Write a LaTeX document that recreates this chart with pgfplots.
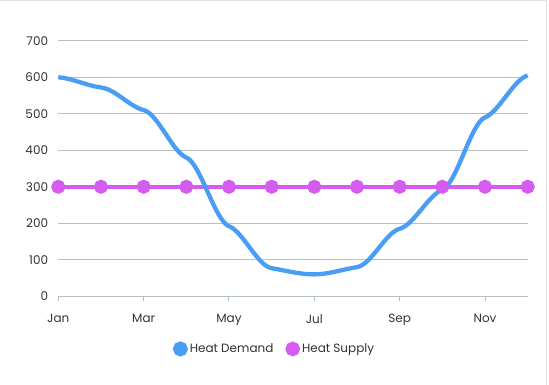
\documentclass[border=0pt]{standalone}
\usepackage{pgfplots}
\pgfplotsset{compat=1.18}
\usepackage{fontspec}
\setmainfont{Poppins}
\definecolor{demand}{HTML}{4A9DF5}
\definecolor{supply}{HTML}{D65CF0}
\definecolor{gridc}{HTML}{B4C0C8}
\definecolor{framec}{HTML}{E3E3E3}
\definecolor{labc}{HTML}{333333}
% plot handler: cubic segments with horizontal control arms of one third
% and damped Catmull-Rom tangents (draws the data points only)
\makeatletter
\newdimen\fc@xa \newdimen\fc@ya \newdimen\fc@xb \newdimen\fc@yb
\newdimen\fc@xc \newdimen\fc@yc \newdimen\fc@ma \newdimen\fc@mb \newdimen\fc@dx
\def\fc@kc{0.05}% k/6
\def\fc@ke{0.1}% k/3
\def\pgfplothandlerflatcurve{%
  \def\pgf@plotstreamstart{%
    \global\let\pgf@plotstreampoint=\fc@first
    \global\let\pgf@plotstreamspecial=\pgfutil@gobble
    \global\let\pgf@plotstreamend=\fc@end
  }%
}
\def\fc@first#1{%
  \pgf@process{#1}%
  \global\fc@xa=\pgf@x \global\fc@ya=\pgf@y
  \pgfpathmoveto{\pgfqpoint{\fc@xa}{\fc@ya}}%
  \global\let\pgf@plotstreampoint=\fc@second
}
\def\fc@second#1{%
  \pgf@process{#1}%
  \global\fc@xb=\pgf@x \global\fc@yb=\pgf@y
  \global\fc@ma=\fc@yb \global\advance\fc@ma by -\fc@ya
  \global\fc@ma=\fc@ke\fc@ma
  \global\let\pgf@plotstreampoint=\fc@next
}
\def\fc@seg{%
  \global\fc@dx=\fc@xb \global\advance\fc@dx by -\fc@xa
  \global\fc@dx=0.33333\fc@dx
  \pgfpathcurveto
    {\pgfpointadd{\pgfqpoint{\fc@xa}{\fc@ya}}{\pgfqpoint{\fc@dx}{\fc@ma}}}%
    {\pgfpointadd{\pgfqpoint{\fc@xb}{\fc@yb}}{\pgfqpoint{-\fc@dx}{-\fc@mb}}}%
    {\pgfqpoint{\fc@xb}{\fc@yb}}%
}
\def\fc@next#1{%
  \pgf@process{#1}%
  \global\fc@xc=\pgf@x \global\fc@yc=\pgf@y
  \global\fc@mb=\fc@yc \global\advance\fc@mb by -\fc@ya
  \global\fc@mb=\fc@kc\fc@mb
  \fc@seg
  \global\fc@xa=\fc@xb \global\fc@ya=\fc@yb
  \global\fc@xb=\fc@xc \global\fc@yb=\fc@yc
  \global\fc@ma=\fc@mb
}
\def\fc@end{%
  \ifx\pgf@plotstreampoint\fc@next
    \global\fc@mb=\fc@yb \global\advance\fc@mb by -\fc@ya
    \global\fc@mb=\fc@ke\fc@mb
    \fc@seg
  \fi
}
\tikzset{flat curve/.code={\def\tikz@plot@handler{\pgfplothandlerflatcurve}}}
\makeatother
\begin{document}
\begin{tikzpicture}
\path[use as bounding box] (-58.3bp,-88.7bp) rectangle (490.7bp,296.3bp);
\draw[framec, line width=1.2bp] (-58.3bp,295.8bp) -- (488.4bp,295.8bp) -- (488.4bp,-88.7bp);
\begin{axis}[
  scale only axis, width=469.4bp, height=255.6bp,
  at={(0,0)}, anchor=south west,
  xmin=0, xmax=11, ymin=0, ymax=700,
  ytick={0,100,...,700},
  xtick={0,2,4,6,8,10},
  xticklabels={Jan,Mar,May,Jul,Sep,Nov},
  xtick pos=left,
  axis line style={draw=none},
  ymajorgrids, grid style={gridc, line width=1bp},
  tick align=outside, major tick length=5bp,
  xtick style={gridc, line width=1bp},
  ytick style={draw=none},
  tick label style={font=\fontsize{12bp}{14bp}\selectfont, text=labc},
  /pgf/number format/assume math mode=true,
  yticklabel style={anchor=east, inner sep=0pt, xshift=-5bp},
  xticklabel style={anchor=north, inner sep=0pt, yshift=-13bp},
  clip=false,
  legend style={at={(0.4606,-0.206)}, anchor=center, draw=none, fill=none,
    font=\fontsize{12bp}{14bp}\selectfont, text=labc,
    /tikz/every even column/.append style={column sep=10bp}},
  legend columns=2, reverse legend,
  legend image code/.code={\fill[#1] (-3bp,0bp) circle (5.3bp);},
]
\addplot[supply, line width=4bp, mark=*, mark size=5bp, mark options={solid, fill=supply, draw=none}]
  coordinates {(0,300)(1,300)(2,300)(3,300)(4,300)(5,300)(6,300)(7,300)(8,300)(9,300)(10,300)(11,300)};
\addlegendentry{Heat Supply}
\addplot[demand, line width=4.3bp, flat curve, no marks]
  coordinates {(0,600)(1,572)(2,510)(3,380)(4,192)(5,77)(6,60)(7,80)(8,185)(9,292)(10,490)(11,605)};
\addlegendentry{Heat Demand}
\end{axis}
\end{tikzpicture}
\end{document}
